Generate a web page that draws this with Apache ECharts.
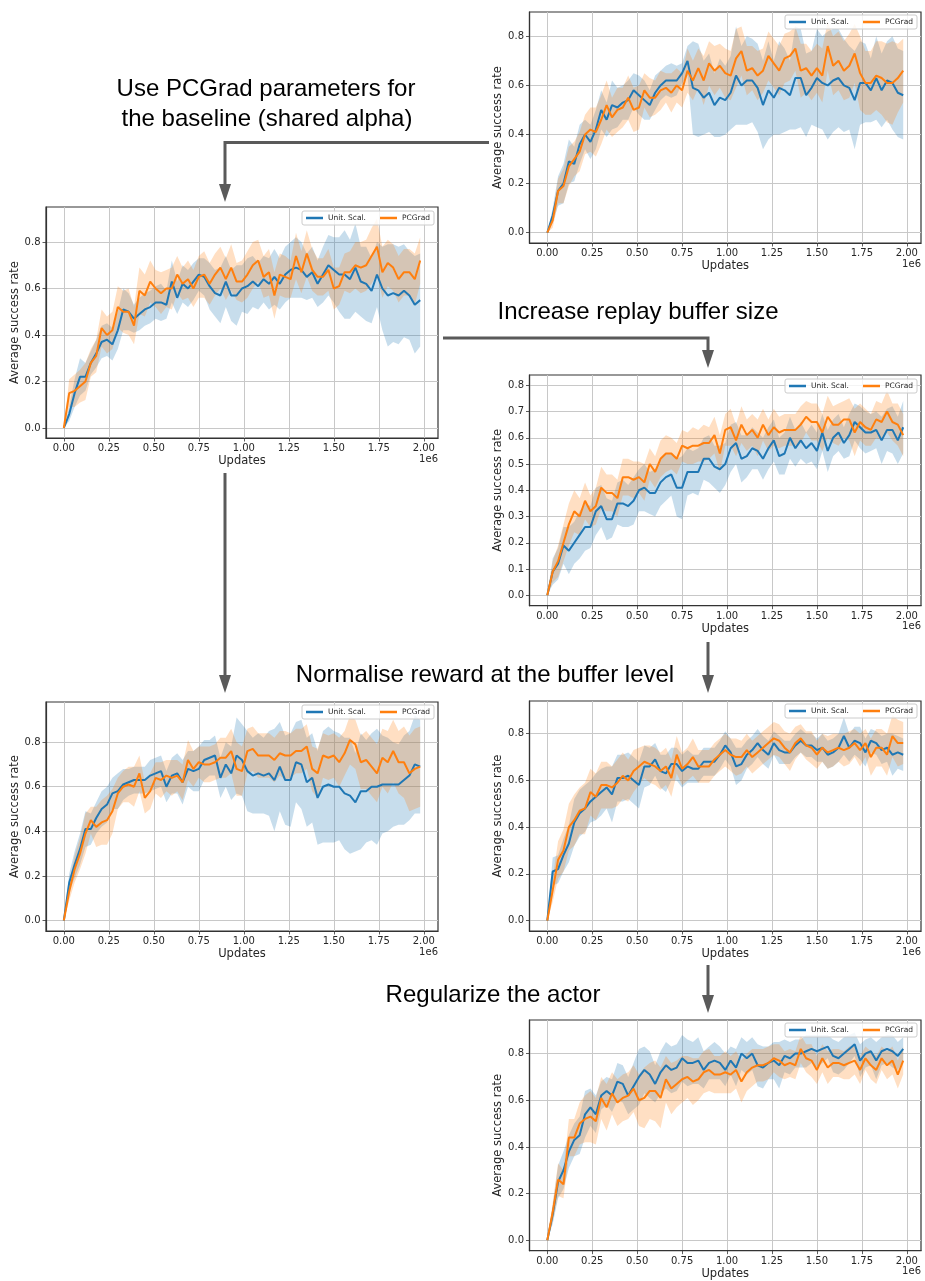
<!DOCTYPE html>
<html><head><meta charset="utf-8">
<script src="https://cdn.jsdelivr.net/npm/echarts@6/dist/echarts.min.js"></script>
<style>html,body{margin:0;padding:0;background:#fff}#c{width:925px;height:1281px}</style>
</head><body><div id="c"></div>
<script>
// ---------- data (x in units of 1e6 updates) ----------
const updates = [0,0.03,0.06,0.09,0.12,0.15,0.18,0.21,0.24,0.27,0.30,0.33,0.36,0.39,0.42,0.45,0.48,0.51,0.54,0.57,0.60,0.63,0.66,0.69,0.72,0.75,0.78,0.81,0.84,0.87,0.90,0.93,0.96,0.99,1.02,1.05,1.08,1.11,1.14,1.17,1.20,1.23,1.26,1.29,1.32,1.35,1.38,1.41,1.44,1.47,1.50,1.53,1.56,1.59,1.62,1.65,1.68,1.71,1.74,1.77,1.80,1.83,1.86,1.89,1.92,1.95,1.98];
const seriesNames = ['Unit. Scal.', 'PCGrad'];
const xTicks = [0,0.25,0.5,0.75,1.0,1.25,1.5,1.75,2.0];
const yTicks = [0,0.2,0.4,0.6,0.8];
const yTicksFine = [0,0.1,0.2,0.3,0.4,0.5,0.6,0.7,0.8];
const annotations = ['Use PCGrad parameters for','the baseline (shared alpha)','Increase replay buffer size','Normalise reward at the buffer level','Regularize the actor'];

// Panel 1 (top right)
const p1Unit = [0,0.07,0.17,0.20,0.29,0.28,0.36,0.40,0.37,0.42,0.50,0.46,0.52,0.51,0.53,0.54,0.58,0.56,0.54,0.52,0.57,0.60,0.62,0.62,0.62,0.65,0.70,0.59,0.58,0.55,0.57,0.52,0.55,0.54,0.57,0.64,0.60,0.62,0.62,0.59,0.52,0.58,0.55,0.59,0.58,0.56,0.63,0.63,0.56,0.59,0.63,0.61,0.60,0.62,0.63,0.60,0.59,0.54,0.61,0.61,0.58,0.63,0.58,0.62,0.61,0.57,0.56];
const p1UnitStd = [0,0.03,0.06,0.08,0.09,0.07,0.08,0.06,0.07,0.08,0.08,0.07,0.10,0.08,0.07,0.08,0.07,0.08,0.08,0.06,0.07,0.06,0.06,0.07,0.06,0.04,0.06,0.19,0.19,0.15,0.16,0.13,0.16,0.14,0.15,0.20,0.16,0.18,0.17,0.18,0.18,0.20,0.15,0.19,0.17,0.14,0.21,0.20,0.17,0.15,0.20,0.19,0.22,0.21,0.20,0.19,0.17,0.20,0.17,0.16,0.13,0.17,0.15,0.16,0.19,0.18,0.18];
const p1PCGrad = [0,0.05,0.17,0.19,0.27,0.30,0.33,0.40,0.42,0.41,0.46,0.52,0.47,0.50,0.51,0.55,0.50,0.51,0.58,0.55,0.55,0.58,0.59,0.57,0.60,0.58,0.66,0.62,0.67,0.62,0.69,0.66,0.68,0.65,0.64,0.71,0.74,0.66,0.67,0.64,0.66,0.72,0.69,0.66,0.71,0.72,0.75,0.66,0.67,0.64,0.67,0.64,0.76,0.68,0.70,0.66,0.68,0.73,0.65,0.61,0.61,0.64,0.63,0.61,0.61,0.63,0.66];
const p1PCGradStd = [0,0.03,0.05,0.07,0.08,0.07,0.08,0.08,0.09,0.10,0.10,0.10,0.08,0.09,0.08,0.09,0.09,0.09,0.07,0.08,0.07,0.08,0.06,0.08,0.07,0.07,0.09,0.08,0.08,0.10,0.09,0.10,0.09,0.10,0.10,0.12,0.10,0.10,0.09,0.10,0.09,0.10,0.10,0.10,0.10,0.10,0.09,0.11,0.10,0.10,0.10,0.11,0.10,0.12,0.12,0.12,0.13,0.12,0.15,0.13,0.13,0.14,0.15,0.16,0.17,0.14,0.13];

// Panel 2 (left, second row)
const p2Unit = [0,0.06,0.15,0.22,0.22,0.28,0.32,0.37,0.38,0.36,0.42,0.51,0.50,0.47,0.49,0.51,0.52,0.54,0.54,0.53,0.63,0.56,0.62,0.60,0.63,0.66,0.65,0.61,0.58,0.57,0.63,0.57,0.57,0.60,0.61,0.63,0.61,0.64,0.62,0.65,0.62,0.66,0.68,0.69,0.68,0.65,0.67,0.62,0.66,0.70,0.68,0.66,0.66,0.64,0.69,0.63,0.62,0.59,0.66,0.60,0.57,0.58,0.57,0.59,0.57,0.53,0.55];
const p2UnitStd = [0,0.03,0.06,0.08,0.06,0.05,0.06,0.07,0.07,0.07,0.08,0.09,0.08,0.06,0.07,0.07,0.07,0.07,0.08,0.06,0.09,0.07,0.08,0.08,0.08,0.07,0.08,0.10,0.10,0.12,0.11,0.11,0.13,0.10,0.12,0.11,0.10,0.10,0.11,0.12,0.11,0.12,0.12,0.13,0.12,0.10,0.11,0.10,0.12,0.13,0.14,0.16,0.19,0.17,0.19,0.15,0.16,0.14,0.14,0.18,0.22,0.21,0.21,0.20,0.19,0.21,0.20];
const p2PCGrad = [0,0.15,0.16,0.18,0.20,0.28,0.31,0.43,0.40,0.42,0.52,0.50,0.50,0.44,0.59,0.57,0.63,0.60,0.58,0.60,0.60,0.66,0.62,0.64,0.60,0.65,0.66,0.62,0.66,0.69,0.64,0.69,0.63,0.63,0.66,0.70,0.72,0.65,0.67,0.57,0.66,0.65,0.64,0.74,0.67,0.75,0.68,0.65,0.65,0.68,0.60,0.61,0.67,0.67,0.70,0.69,0.70,0.74,0.78,0.67,0.71,0.69,0.64,0.67,0.67,0.64,0.72];
const p2PCGradStd = [0,0.06,0.07,0.07,0.08,0.06,0.07,0.08,0.08,0.08,0.09,0.09,0.10,0.08,0.10,0.09,0.09,0.08,0.09,0.08,0.09,0.08,0.07,0.08,0.08,0.09,0.10,0.09,0.09,0.09,0.09,0.10,0.08,0.09,0.10,0.10,0.09,0.09,0.10,0.10,0.09,0.09,0.08,0.10,0.09,0.10,0.09,0.08,0.08,0.09,0.09,0.08,0.08,0.09,0.10,0.11,0.11,0.12,0.12,0.11,0.10,0.10,0.10,0.10,0.10,0.11,0.10];

// Panel 3 (right, second row)
const p3Unit = [0,0.09,0.12,0.19,0.17,0.20,0.23,0.26,0.26,0.32,0.34,0.29,0.29,0.35,0.35,0.34,0.36,0.40,0.41,0.39,0.39,0.43,0.45,0.46,0.41,0.41,0.47,0.47,0.47,0.52,0.52,0.49,0.48,0.50,0.56,0.58,0.52,0.53,0.56,0.55,0.52,0.56,0.59,0.53,0.54,0.60,0.56,0.59,0.56,0.58,0.55,0.62,0.55,0.60,0.62,0.58,0.61,0.66,0.64,0.62,0.62,0.63,0.59,0.63,0.63,0.59,0.64];
const p3UnitStd = [0,0.05,0.06,0.07,0.09,0.08,0.09,0.09,0.08,0.09,0.08,0.08,0.07,0.08,0.09,0.08,0.09,0.08,0.09,0.08,0.09,0.09,0.09,0.08,0.11,0.12,0.09,0.08,0.09,0.08,0.09,0.08,0.09,0.08,0.09,0.08,0.09,0.08,0.08,0.07,0.08,0.08,0.08,0.07,0.08,0.08,0.07,0.07,0.06,0.07,0.07,0.07,0.08,0.07,0.07,0.06,0.08,0.07,0.08,0.08,0.07,0.07,0.09,0.08,0.09,0.09,0.10];
const p3PCGrad = [0,0.09,0.13,0.20,0.27,0.32,0.30,0.36,0.32,0.34,0.41,0.39,0.39,0.37,0.45,0.45,0.44,0.45,0.43,0.50,0.47,0.52,0.54,0.54,0.52,0.57,0.56,0.57,0.57,0.58,0.58,0.61,0.54,0.63,0.64,0.59,0.65,0.61,0.63,0.60,0.65,0.61,0.64,0.62,0.63,0.63,0.63,0.65,0.68,0.66,0.66,0.62,0.68,0.65,0.65,0.67,0.67,0.62,0.66,0.64,0.63,0.67,0.66,0.70,0.66,0.65,0.61];
const p3PCGradStd = [0,0.04,0.06,0.07,0.08,0.08,0.07,0.07,0.06,0.07,0.08,0.07,0.07,0.07,0.07,0.07,0.07,0.06,0.07,0.06,0.06,0.07,0.07,0.06,0.06,0.06,0.06,0.07,0.06,0.07,0.06,0.07,0.07,0.06,0.07,0.06,0.07,0.06,0.06,0.07,0.06,0.06,0.07,0.06,0.06,0.06,0.06,0.07,0.06,0.07,0.07,0.07,0.08,0.07,0.08,0.07,0.08,0.09,0.07,0.07,0.06,0.07,0.07,0.08,0.07,0.08,0.08];

// Panel 4 (left, third row)
const p4Unit = [0,0.17,0.25,0.32,0.41,0.41,0.46,0.50,0.52,0.57,0.58,0.61,0.62,0.63,0.63,0.63,0.65,0.66,0.67,0.60,0.65,0.66,0.62,0.68,0.67,0.68,0.72,0.73,0.74,0.64,0.70,0.66,0.74,0.72,0.67,0.65,0.66,0.65,0.66,0.63,0.69,0.63,0.63,0.71,0.70,0.62,0.64,0.55,0.60,0.61,0.60,0.60,0.57,0.56,0.53,0.58,0.58,0.60,0.60,0.61,0.61,0.61,0.61,0.63,0.65,0.70,0.69];
const p4UnitStd = [0,0.04,0.06,0.07,0.08,0.07,0.07,0.08,0.08,0.07,0.08,0.07,0.06,0.06,0.06,0.06,0.07,0.07,0.07,0.07,0.08,0.09,0.10,0.08,0.09,0.10,0.09,0.08,0.09,0.09,0.10,0.12,0.17,0.16,0.18,0.17,0.18,0.17,0.19,0.23,0.20,0.20,0.21,0.18,0.20,0.20,0.20,0.21,0.25,0.26,0.25,0.24,0.25,0.26,0.22,0.26,0.23,0.24,0.26,0.22,0.21,0.19,0.18,0.20,0.20,0.22,0.21];
const p4PCGrad = [0,0.13,0.23,0.30,0.39,0.45,0.42,0.44,0.45,0.49,0.57,0.60,0.61,0.60,0.66,0.55,0.58,0.64,0.63,0.65,0.64,0.65,0.62,0.72,0.68,0.71,0.70,0.70,0.71,0.73,0.73,0.76,0.68,0.67,0.76,0.77,0.74,0.74,0.74,0.72,0.75,0.74,0.74,0.76,0.76,0.78,0.68,0.66,0.74,0.73,0.74,0.71,0.75,0.81,0.79,0.71,0.72,0.69,0.66,0.73,0.71,0.76,0.71,0.71,0.66,0.68,0.69];
const p4PCGradStd = [0,0.04,0.06,0.07,0.09,0.06,0.09,0.10,0.11,0.10,0.07,0.07,0.08,0.09,0.08,0.07,0.08,0.07,0.08,0.07,0.08,0.07,0.08,0.09,0.08,0.07,0.08,0.08,0.08,0.09,0.09,0.10,0.12,0.11,0.10,0.10,0.10,0.10,0.10,0.10,0.10,0.11,0.10,0.10,0.10,0.10,0.10,0.11,0.10,0.10,0.10,0.11,0.10,0.11,0.11,0.12,0.13,0.13,0.13,0.13,0.14,0.14,0.14,0.16,0.17,0.18,0.18];

// Panel 5 (right, third row)
const p5Unit = [0,0.21,0.22,0.28,0.33,0.42,0.46,0.48,0.51,0.53,0.55,0.57,0.54,0.61,0.61,0.62,0.60,0.58,0.66,0.66,0.69,0.64,0.63,0.67,0.67,0.64,0.66,0.65,0.65,0.68,0.68,0.68,0.71,0.75,0.72,0.66,0.67,0.71,0.73,0.76,0.73,0.71,0.76,0.73,0.72,0.72,0.75,0.77,0.75,0.75,0.73,0.74,0.71,0.72,0.74,0.79,0.74,0.77,0.76,0.72,0.77,0.76,0.73,0.74,0.71,0.72,0.71];
const p5UnitStd = [0,0.06,0.06,0.07,0.08,0.10,0.10,0.10,0.09,0.10,0.10,0.09,0.12,0.10,0.10,0.10,0.10,0.10,0.09,0.08,0.07,0.07,0.08,0.07,0.07,0.07,0.07,0.06,0.06,0.06,0.06,0.06,0.06,0.06,0.06,0.08,0.07,0.06,0.06,0.06,0.06,0.06,0.05,0.06,0.05,0.05,0.05,0.05,0.05,0.05,0.05,0.06,0.06,0.06,0.06,0.08,0.06,0.06,0.07,0.06,0.05,0.05,0.06,0.06,0.09,0.07,0.07];
const p5PCGrad = [0,0.13,0.26,0.30,0.40,0.43,0.47,0.48,0.55,0.53,0.58,0.58,0.57,0.59,0.62,0.60,0.64,0.66,0.68,0.67,0.66,0.64,0.66,0.61,0.71,0.65,0.67,0.70,0.66,0.66,0.66,0.69,0.71,0.73,0.71,0.70,0.70,0.73,0.70,0.72,0.74,0.76,0.78,0.77,0.74,0.72,0.76,0.78,0.75,0.74,0.71,0.74,0.72,0.73,0.74,0.73,0.74,0.76,0.73,0.76,0.70,0.74,0.74,0.71,0.79,0.76,0.76];
const p5PCGradStd = [0,0.05,0.08,0.09,0.10,0.11,0.10,0.11,0.10,0.10,0.10,0.10,0.09,0.10,0.10,0.09,0.09,0.08,0.07,0.08,0.08,0.08,0.08,0.08,0.08,0.07,0.07,0.08,0.07,0.07,0.07,0.07,0.07,0.07,0.07,0.08,0.07,0.07,0.07,0.07,0.07,0.07,0.07,0.07,0.07,0.08,0.07,0.06,0.06,0.07,0.06,0.06,0.07,0.07,0.06,0.07,0.07,0.06,0.07,0.06,0.08,0.08,0.08,0.09,0.09,0.10,0.09];

// Panel 6 (right, bottom)
const p6Unit = [0,0.11,0.25,0.30,0.38,0.43,0.45,0.54,0.57,0.54,0.62,0.64,0.62,0.68,0.67,0.62,0.66,0.70,0.73,0.71,0.67,0.72,0.75,0.73,0.74,0.78,0.76,0.76,0.77,0.73,0.76,0.77,0.76,0.73,0.77,0.74,0.80,0.78,0.80,0.75,0.74,0.76,0.77,0.75,0.79,0.78,0.80,0.80,0.81,0.82,0.81,0.82,0.83,0.79,0.78,0.80,0.82,0.84,0.77,0.80,0.81,0.77,0.81,0.82,0.81,0.79,0.82];
const p6UnitStd = [0,0.04,0.07,0.08,0.07,0.07,0.08,0.10,0.08,0.08,0.06,0.06,0.07,0.08,0.08,0.08,0.10,0.12,0.10,0.10,0.08,0.09,0.10,0.10,0.10,0.10,0.10,0.09,0.10,0.08,0.07,0.08,0.07,0.07,0.06,0.08,0.07,0.07,0.07,0.09,0.09,0.07,0.08,0.10,0.07,0.07,0.06,0.06,0.07,0.06,0.07,0.06,0.05,0.07,0.07,0.07,0.06,0.05,0.07,0.06,0.06,0.08,0.06,0.06,0.07,0.06,0.05];
const p6PCGrad = [0,0.12,0.26,0.24,0.44,0.44,0.50,0.52,0.53,0.51,0.61,0.57,0.63,0.59,0.61,0.62,0.65,0.60,0.61,0.64,0.64,0.61,0.69,0.65,0.67,0.69,0.70,0.68,0.69,0.72,0.73,0.71,0.71,0.72,0.71,0.73,0.68,0.72,0.74,0.75,0.75,0.76,0.78,0.77,0.75,0.76,0.75,0.82,0.78,0.77,0.73,0.78,0.74,0.76,0.76,0.75,0.76,0.77,0.73,0.78,0.75,0.73,0.78,0.75,0.77,0.71,0.77];
const p6PCGradStd = [0,0.04,0.07,0.06,0.08,0.08,0.09,0.10,0.11,0.10,0.09,0.10,0.09,0.10,0.10,0.10,0.10,0.11,0.13,0.12,0.13,0.13,0.10,0.11,0.10,0.10,0.09,0.10,0.09,0.09,0.09,0.08,0.08,0.09,0.08,0.08,0.09,0.08,0.08,0.07,0.07,0.07,0.06,0.07,0.06,0.06,0.06,0.06,0.06,0.07,0.06,0.06,0.07,0.06,0.06,0.06,0.07,0.06,0.06,0.05,0.06,0.06,0.05,0.06,0.06,0.06,0.06];

// ---------- layout (separate from data) ----------
const panels = [
  {left:529.5, top:12,   width:391.5, height:231,   ymin:-0.042,  ymax:0.899, ticks:yTicks,     unit:p1Unit, unitStd:p1UnitStd, pc:p1PCGrad, pcStd:p1PCGradStd, legTop:15},
  {left:46,    top:207,  width:392,   height:231,   ymin:-0.043,  ymax:0.9505, ticks:yTicks,    unit:p2Unit, unitStd:p2UnitStd, pc:p2PCGrad, pcStd:p2PCGradStd, legTop:211},
  {left:529.5, top:375,  width:391.5, height:230.7, ymin:-0.0396, ymax:0.839, ticks:yTicksFine, unit:p3Unit, unitStd:p3UnitStd, pc:p3PCGrad, pcStd:p3PCGradStd, legTop:379},
  {left:46,    top:702,  width:392,   height:229,   ymin:-0.047,  ymax:0.98,  ticks:yTicks,     unit:p4Unit, unitStd:p4UnitStd, pc:p4PCGrad, pcStd:p4PCGradStd, legTop:705},
  {left:529.5, top:701,  width:391.5, height:230,   ymin:-0.0446, ymax:0.94,  ticks:yTicks,     unit:p5Unit, unitStd:p5UnitStd, pc:p5PCGrad, pcStd:p5PCGradStd, legTop:704},
  {left:529.5, top:1020, width:391.5, height:230.7, ymin:-0.0446, ymax:0.944, ticks:yTicks,     unit:p6Unit, unitStd:p6UnitStd, pc:p6PCGrad, pcStd:p6PCGradStd, legTop:1023}
];
const BLUE = '#1f77b4', ORANGE = '#ff7f0e';
const BLUE_BAND = 'rgba(31,119,180,0.25)', ORANGE_BAND = 'rgba(255,127,14,0.25)';
const TXT = '#262626', FRAME = '#333333', GRID = '#c8c8c8';
const FONT = 'DejaVu Sans';

const chart = echarts.init(document.getElementById('c'), null, {renderer: 'canvas'});

const grids = [], xAxes = [], yAxes = [], series = [], legends = [], graphics = [];

function bandSeries(name, gi, mean, std, fill) {
  return {
    type: 'custom', name: name, xAxisIndex: gi, yAxisIndex: gi, z: 1, silent: true,
    data: updates.map((x, i) => [x, mean[i] - std[i], mean[i] + std[i]]),
    encode: {x: 0, y: [1, 2]},
    renderItem: function (params, api) {
      if (params.dataIndexInside !== 0) return null;
      const n = params.dataInsideLength;
      const up = [], lo = [];
      for (let i = 0; i < n; i++) {
        up.push(api.coord([api.value(0, i), api.value(2, i)]));
        lo.push(api.coord([api.value(0, i), api.value(1, i)]));
      }
      return {type: 'polygon', shape: {points: up.concat(lo.reverse())}, style: {fill: fill, stroke: null}};
    }
  };
}
function lineSeries(name, gi, mean, color) {
  return {
    type: 'line', name: name, xAxisIndex: gi, yAxisIndex: gi, z: 3,
    data: updates.map((x, i) => [x, mean[i]]),
    showSymbol: false, symbol: 'none', smooth: false,
    lineStyle: {width: 2, color: color}, itemStyle: {color: color}
  };
}

panels.forEach((p, gi) => {
  grids.push({left: p.left, top: p.top, width: p.width, height: p.height, show: true,
    borderColor: FRAME, borderWidth: 1.2, backgroundColor: 'transparent', containLabel: false});
  xAxes.push({
    type: 'value', gridIndex: gi, min: -0.099, max: 2.079,
    name: 'Updates', nameLocation: 'middle', nameGap: 17,
    nameTextStyle: {fontFamily: FONT, fontSize: 11.5, color: TXT},
    axisLine: {show: true, onZero: false, lineStyle: {color: FRAME, width: 1.2}},
    axisTick: {show: true, length: 3.5, inside: false, customValues: xTicks, lineStyle: {color: FRAME, width: 0.8}},
    axisLabel: {show: true, customValues: xTicks, margin: 5.5, fontFamily: FONT, fontSize: 10, color: TXT,
      formatter: v => v.toFixed(2), showMinLabel: true, showMaxLabel: true},
    splitLine: {show: true, lineStyle: {color: GRID, width: 1}}
  });
  yAxes.push({
    type: 'value', gridIndex: gi, min: p.ymin, max: p.ymax,
    name: 'Average success rate', nameLocation: 'middle', nameGap: 19.5, nameRotate: 90,
    nameTextStyle: {fontFamily: FONT, fontSize: 11.5, color: TXT},
    axisLine: {show: true, onZero: false, lineStyle: {color: FRAME, width: 1.2}},
    axisTick: {show: true, length: 3.5, inside: false, customValues: p.ticks, lineStyle: {color: FRAME, width: 0.8}},
    axisLabel: {show: true, customValues: p.ticks, margin: 5.5, fontFamily: FONT, fontSize: 10, color: TXT,
      formatter: v => v.toFixed(1)},
    splitLine: {show: true, lineStyle: {color: GRID, width: 1}}
  });
  series.push(bandSeries(seriesNames[0] + ' band', gi, p.unit, p.unitStd, BLUE_BAND));
  series.push(lineSeries(seriesNames[0], gi, p.unit, BLUE));
  series.push(bandSeries(seriesNames[1] + ' band', gi, p.pc, p.pcStd, ORANGE_BAND));
  series.push(lineSeries(seriesNames[1], gi, p.pc, ORANGE));
  legends.push({
    data: seriesNames, right: 925 - (p.left + p.width) + 4, top: p.legTop,
    orient: 'horizontal', icon: 'rect', itemWidth: 17, itemHeight: 2.5, itemGap: 14,
    padding: [3, 4], backgroundColor: 'rgba(255,255,255,0.8)', borderColor: '#cccccc', borderWidth: 1, borderRadius: 2,
    selectedMode: false, textStyle: {fontFamily: FONT, fontSize: 7.5, color: TXT}
  });
  graphics.push({type: 'text', x: p.left + p.width, y: p.top + p.height + 21, silent: true,
    style: {text: '1e6', fontFamily: FONT, fontSize: 10, fill: TXT, align: 'right', verticalAlign: 'middle', textAlign: 'right', textVerticalAlign: 'middle'}});
});

// annotation texts
const ANN = '#000000', ARROW = '#5a5a5a';
function annText(t, x, y) {
  return {type: 'text', x: x, y: y, silent: true,
    style: {text: t, fontFamily: 'Liberation Sans', fontSize: 24, fill: ANN, align: 'center', verticalAlign: 'middle', textAlign: 'center', textVerticalAlign: 'middle'}};
}
graphics.push(annText(annotations[0], 266, 89));
graphics.push(annText(annotations[1], 267, 119));
graphics.push(annText(annotations[2], 638, 312));
graphics.push(annText(annotations[3], 485, 675));
graphics.push(annText(annotations[4], 493, 995));

function arrowLine(pts) {
  return {type: 'polyline', silent: true, shape: {points: pts}, style: {stroke: ARROW, lineWidth: 3, fill: null, lineJoin: 'miter'}};
}
function arrowHead(x, tipY) {
  return {type: 'polygon', silent: true, shape: {points: [[x - 6, tipY - 18], [x + 6, tipY - 18], [x, tipY]]}, style: {fill: ARROW}};
}
graphics.push(arrowLine([[489, 142.5], [225, 142.5], [225, 186]]), arrowHead(225, 202));
graphics.push(arrowLine([[443, 338], [708, 338], [708, 352]]), arrowHead(708, 368));
graphics.push(arrowLine([[225, 473], [225, 677]]), arrowHead(225, 693));
graphics.push(arrowLine([[708, 642], [708, 677]]), arrowHead(708, 693));
graphics.push(arrowLine([[708, 965], [708, 997]]), arrowHead(708, 1013));

chart.setOption({
  animation: false,
  backgroundColor: '#ffffff',
  grid: grids, xAxis: xAxes, yAxis: yAxes, legend: legends, series: series,
  graphic: {elements: graphics}
});
</script>
</body></html>
